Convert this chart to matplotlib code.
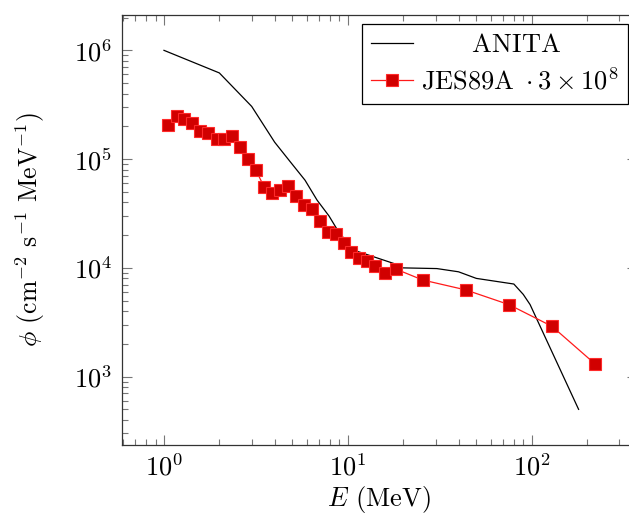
import numpy as np
import matplotlib
matplotlib.use("Agg")
from matplotlib import pyplot as plt

# ANITA reference spectrum
anita_E = [1.0, 2.0, 3.0, 4.0, 4.85, 5.85, 6.8, 7.9, 8.9, 10.7, 17.7, 19.6,
           30.5, 40.0, 50.0, 80.0, 90.0, 98.0, 180.0]
anita_phi = [1.0e6, 6.2e5, 3.05e5, 1.43e5, 9.5e4, 6.4e4, 4.2e4, 3.0e4, 2.15e4,
             1.46e4, 1.1e4, 1.0e4, 9.85e3, 9.2e3, 8.0e3, 7.1e3, 5.7e3, 4.6e3, 5.0e2]

# JES89A spectrum (scaled by 3e8)
jes_E = [1.056, 1.172, 1.289, 1.414, 1.569, 1.734, 1.934, 2.126, 2.35, 2.59,
         2.86, 3.16, 3.50, 3.85, 4.27, 4.74, 5.22, 5.77, 6.37, 7.04, 7.78,
         8.60, 9.51, 10.47, 11.53, 12.74, 14.14, 16.03, 18.37, 25.5, 43.8,
         75.3, 129.0, 222.0]
jes_phi = [2.07e5, 2.49e5, 2.32e5, 2.13e5, 1.81e5, 1.73e5, 1.53e5, 1.52e5,
           1.64e5, 1.30e5, 1.0e5, 7.94e4, 5.57e4, 4.91e4, 5.2e4, 5.69e4,
           4.58e4, 3.79e4, 3.48e4, 2.70e4, 2.15e4, 2.04e4, 1.68e4, 1.39e4,
           1.22e4, 1.16e4, 1.03e4, 9.04e3, 9.7e3, 7.74e3, 6.27e3, 4.59e3,
           2.90e3, 1.30e3]

plt.rcParams['mathtext.fontset'] = 'cm'
plt.rcParams['font.family'] = 'serif'
plt.rcParams['font.serif'] = ['cmr10', 'DejaVu Serif']
plt.rcParams['axes.formatter.use_mathtext'] = True
plt.rcParams['font.size'] = 19

fig = plt.figure(figsize=(6.29, 5.18), dpi=100)
ax = fig.add_axes([0.1935, 0.1409, 0.8192, 0.830])

ax.plot(anita_E, anita_phi, color='black', lw=0.9, label=r'$\hspace{2.2}\mathrm{ANITA}$')
ax.plot(jes_E, jes_phi, color='#ff1a1a', lw=0.9, marker='s', ms=8,
        mfc='#d10000', mec='#ff2a2a', mew=0.8,
        label=r'$\mathrm{JES89A}\ \cdot 3\times 10^8$')

ax.set_xscale('log')
ax.set_yscale('log')
ax.set_xlim(0.589, 374)
ax.set_ylim(235, 2.11e6)

for s in ax.spines.values():
    s.set_color('#333333')
    s.set_linewidth(0.9)

ax.tick_params(which='both', direction='in', top=True, right=True, color='#777777', width=0.8)
ax.tick_params(which='major', length=7, labelsize=19)
ax.tick_params(which='minor', length=4.5)
ax.tick_params(axis='y', which='major', pad=7)
ax.tick_params(axis='x', which='major', pad=6)

ax.set_xlabel(r'$E$ (MeV)', fontsize=19, labelpad=3)
ax.set_ylabel(r'$\phi$ (cm$^{-2}$ s$^{-1}$ MeV$^{-1}$)', fontsize=18.5, labelpad=19)

leg = ax.legend(loc='upper right', fontsize=19, fancybox=False, framealpha=1,
                edgecolor='black', borderaxespad=0.35, handlelength=1.6,
                borderpad=0.35, labelspacing=0.4, handletextpad=0.3)
leg.get_frame().set_linewidth(0.9)

fig.savefig('out.png', dpi=100)
